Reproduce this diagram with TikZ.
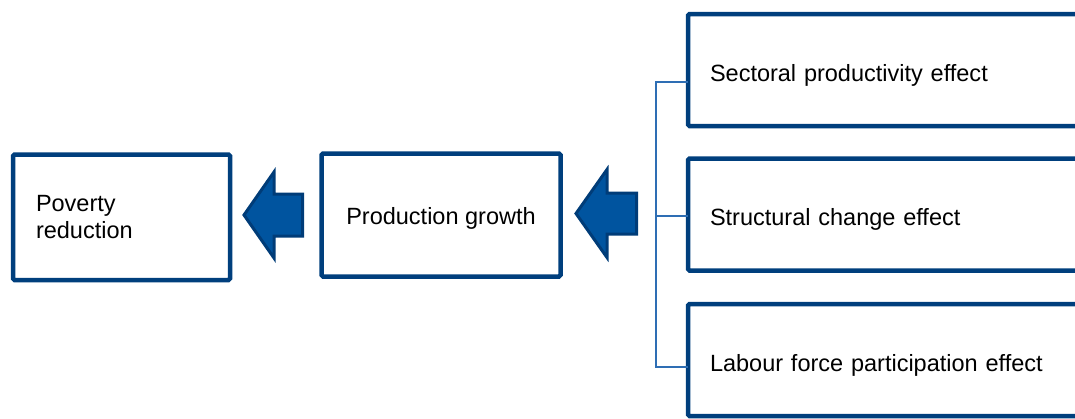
\documentclass[tikz,border=0pt]{standalone}
\usepackage{fontspec}
\setmainfont{Liberation Sans}
\definecolor{boxnavy}{RGB}{0,63,125}
\definecolor{arrowfill}{RGB}{0,84,159}
\definecolor{arrowedge}{RGB}{0,60,120}
\definecolor{bracketblue}{RGB}{46,110,180}
\tikzset{
  framebox/.style={draw=boxnavy, line width=4.5pt, rounded corners=1.5pt, fill=white,
    font=\fontsize{23.5}{27}\selectfont, inner ysep=0pt, outer sep=0pt},
  sidebox/.style={framebox, anchor=north west, minimum width=420pt, minimum height=112pt,
    inner xsep=22pt, text width=376pt, align=left, text height=22pt, text depth=0pt},
  blockarrow/.style={fill=arrowfill, draw=arrowedge, line width=3pt, line join=miter},
  bracket/.style={draw=bracketblue, line width=1.1pt}
}
\begin{document}
\begin{tikzpicture}[x=1pt, y=-1pt]
\useasboundingbox (0,0) rectangle (1075,418);
\clip (0,0) rectangle (1075,418);

% outcome and growth boxes
\node[framebox, minimum width=217pt, minimum height=125.5pt, inner xsep=23pt,
      text width=171pt, align=left] (pov) at (121.5,217.25) {Poverty\\reduction};
\node[framebox, minimum width=239pt, minimum height=123pt, text height=19pt, text depth=0pt]
  (prod) at (441,215) {Production growth};

% decomposition boxes on the right
\node[sidebox] (sec) at (688,14) {Sectoral productivity effect};
\node[sidebox] (str) at (688,158.5) {Structural change effect};
\node[sidebox] (lab) at (688,304) {Labour force participation effect};

% block arrows pointing left
\draw[blockarrow] (244,215) -- (274,172) -- (274,194) -- (302.5,194) -- (302.5,236)
  -- (274,236) -- (274,258) -- cycle;
\draw[blockarrow] (576,213.5) -- (607,169.5) -- (607,193) -- (636.5,193) -- (636.5,234)
  -- (607,234) -- (607,257.5) -- cycle;

% bracket joining the three effects
\coordinate (btop) at (656,82);
\coordinate (bmid) at (656,216);
\coordinate (bbot) at (656,367);
\draw[bracket] (sec.west |- btop) -- (btop) -- (bbot) -- (lab.west |- bbot);
\draw[bracket] (bmid) -- (str.west |- bmid);
\end{tikzpicture}
\end{document}
